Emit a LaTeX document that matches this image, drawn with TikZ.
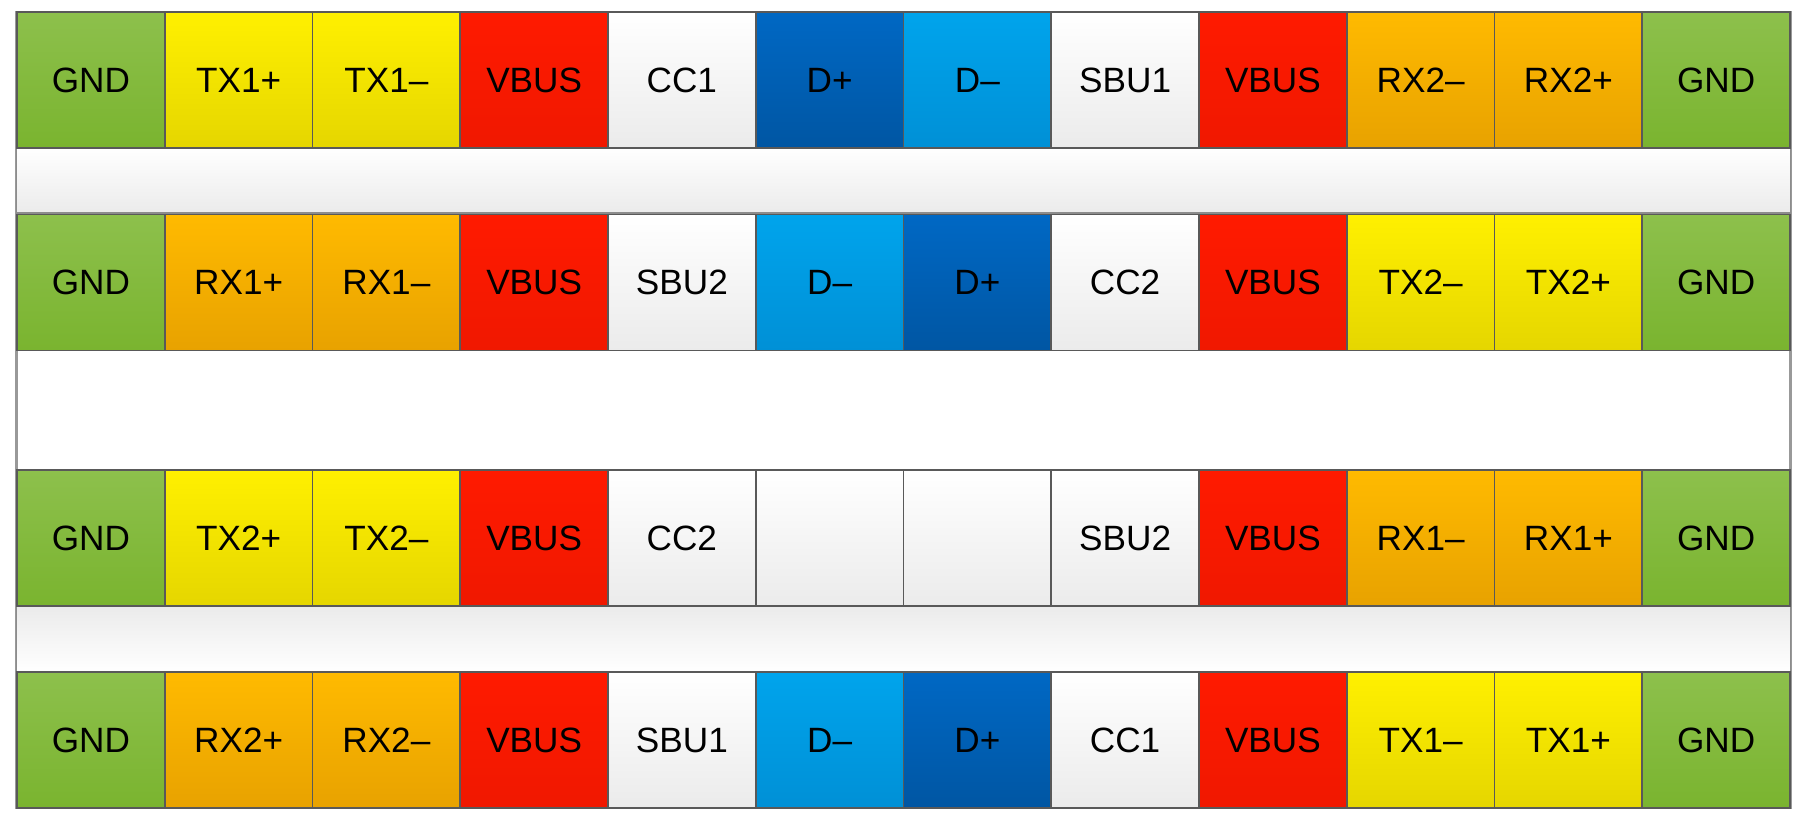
\documentclass[tikz,border=0pt]{standalone}
\usepackage{fontspec}
\setmainfont{Liberation Sans}

\definecolor{gndtop}{HTML}{8DC04C}
\definecolor{gndbot}{HTML}{7AB42F}
\definecolor{txtop}{HTML}{FFF000}
\definecolor{txbot}{HTML}{E5D600}
\definecolor{rxtop}{HTML}{FFBA00}
\definecolor{rxbot}{HTML}{E8A200}
\definecolor{vbtop}{HTML}{FF1A00}
\definecolor{vbbot}{HTML}{F01800}
\definecolor{dptop}{HTML}{0068C4}
\definecolor{dpbot}{HTML}{0056A3}
\definecolor{dmtop}{HTML}{00A4EC}
\definecolor{dmbot}{HTML}{0090D6}
\definecolor{whbot}{HTML}{EBEBEB}

\tikzset{
    pincell/.style={draw=black!65, line width=0.5pt, inner sep=0pt,
        minimum width=1.4775cm, minimum height=1.36cm,
        font=\fontsize{10}{12}\selectfont},
    gnd/.style={pincell, top color=gndtop, bottom color=gndbot},
    tx/.style={pincell, top color=txtop, bottom color=txbot},
    rx/.style={pincell, top color=rxtop, bottom color=rxbot},
    vbus/.style={pincell, top color=vbtop, bottom color=vbbot},
    dp/.style={pincell, top color=dptop, bottom color=dpbot},
    dm/.style={pincell, top color=dmtop, bottom color=dmbot},
    wht/.style={pincell, top color=white, bottom color=whbot},
    bar/.style={draw=black!45, line width=0.5pt, inner sep=0pt,
        minimum width=17.73cm, minimum height=0.655cm}
}

\begin{document}
\begin{tikzpicture}[x=0.01cm, y=0.01cm]
    \useasboundingbox (0,0) rectangle (1797,821);

    % outer frame and middle gap
    \node[draw=black!40, line width=0.6pt, fill=white, inner sep=0pt,
          minimum width=17.73cm, minimum height=7.96cm] (frame) at (903.5,411) {};

    % bars between the rows
    \node[bar, top color=white, bottom color=whbot] (bar1) at (903.5,640.5) {};
    \node[bar, top color=whbot, bottom color=white] (bar2) at (903.5,182) {};

    % row 1
    \foreach \lab/\sty [count=\i from 0] in {GND/gnd, TX1+/tx, TX1–/tx, VBUS/vbus,
        CC1/wht, D+/dp, D–/dm, SBU1/wht, VBUS/vbus, RX2–/rx, RX2+/rx, GND/gnd}
        \node[\sty] (a\i) at ({17+147.75*(\i+0.5)},741) {\lab};

    % row 2
    \foreach \lab/\sty [count=\i from 0] in {GND/gnd, RX1+/rx, RX1–/rx, VBUS/vbus,
        SBU2/wht, D–/dm, D+/dp, CC2/wht, VBUS/vbus, TX2–/tx, TX2+/tx, GND/gnd}
        \node[\sty] (b\i) at ({17+147.75*(\i+0.5)},538.5) {\lab};

    % row 3
    \foreach \lab/\sty [count=\i from 0] in {GND/gnd, TX2+/tx, TX2–/tx, VBUS/vbus,
        CC2/wht, /wht, /wht, SBU2/wht, VBUS/vbus, RX1–/rx, RX1+/rx, GND/gnd}
        \node[\sty] (c\i) at ({17+147.75*(\i+0.5)},283) {\lab};

    % row 4
    \foreach \lab/\sty [count=\i from 0] in {GND/gnd, RX2+/rx, RX2–/rx, VBUS/vbus,
        SBU1/wht, D–/dm, D+/dp, CC1/wht, VBUS/vbus, TX1–/tx, TX1+/tx, GND/gnd}
        \node[\sty] (d\i) at ({17+147.75*(\i+0.5)},81) {\lab};
\end{tikzpicture}
\end{document}
